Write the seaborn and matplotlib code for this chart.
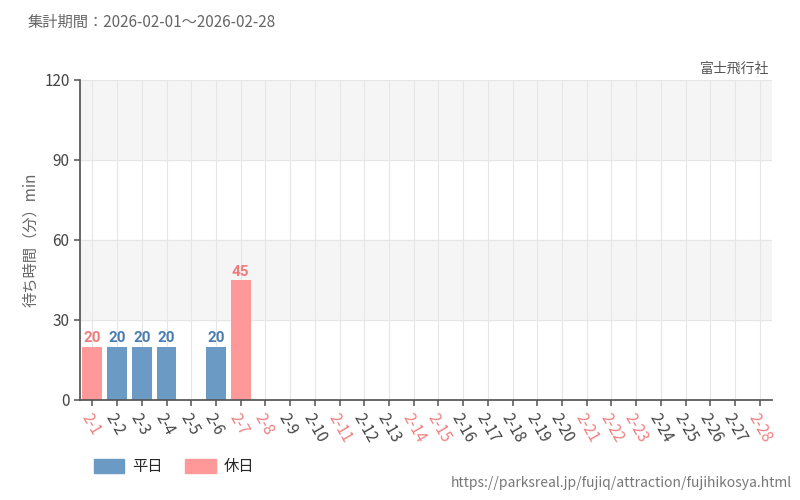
import matplotlib
matplotlib.use("Agg")
import matplotlib.pyplot as plt
import seaborn as sns
import pandas as pd
from matplotlib.patches import Patch

days = [f"2-{d}" for d in range(1, 29)]
holidays = ["2-1", "2-7", "2-8", "2-11", "2-14", "2-15", "2-21", "2-22", "2-23", "2-28"]
values = {"2-1": 20, "2-2": 20, "2-3": 20, "2-4": 20, "2-6": 20, "2-7": 45}

sns.set_theme(style="white")
plt.rcParams['font.family'] = ['Noto Sans CJK JP', 'DejaVu Sans']

rows = []
for d in days:
    if d in values:
        rows.append({"day": d, "wait": values[d], "type": "休日" if d in holidays else "平日"})
df = pd.DataFrame(rows)

C_WD, C_HD = "#6b9bc4", "#ff9999"
T_WD, T_HD = "#4a7eb0", "#f07c7c"

fig = plt.figure(figsize=(8, 5), dpi=100)
ax = fig.add_axes([0.10, 0.20, 0.865, 0.64])
ax.set_facecolor("white")
for lo, hi in [(30, 60), (90, 120)]:
    ax.axhspan(lo, hi, color="#f5f5f5", zorder=0)
for i in range(len(days)):
    ax.axvline(i, color="#e6e6e6", lw=0.8, zorder=0.5)
for y in [30, 60, 90, 120]:
    ax.axhline(y, color="#e6e6e6", lw=0.8, zorder=0.5)

sns.barplot(data=df, x="day", y="wait", hue="type", order=days,
            palette={"平日": C_WD, "休日": C_HD}, dodge=False, width=0.8,
            saturation=1, linewidth=0, ax=ax, legend=False, zorder=2)

for _, r in df.iterrows():
    i = days.index(r["day"])
    ax.text(i, r["wait"] + 0.5, str(r["wait"]), ha="center", va="bottom",
            fontsize=11, fontweight="bold", family=["Roboto", "DejaVu Sans"],
            fontstretch="condensed",
            color=T_HD if r["type"] == "休日" else T_WD, zorder=3)

ax.set_xlim(-0.5, len(days) - 0.5)
ax.set_ylim(0, 120)
ax.set_yticks([0, 30, 60, 90, 120])
ax.tick_params(axis="y", labelsize=11, colors="#444444", length=4, left=True, color="#666666")
ax.set_xticks(range(len(days)))
ax.set_xticklabels(days, rotation=-60, ha="left", rotation_mode="anchor", fontsize=11)
ax.tick_params(axis="x", length=4, bottom=True, color="#666666")
for lbl in ax.get_xticklabels():
    lbl.set_color("#f08080" if lbl.get_text() in holidays else "#444444")
ax.set_xlabel("")
ax.set_ylabel("待ち時間（分）min", fontsize=11, color="#666666")
for s in ["top", "right"]:
    ax.spines[s].set_visible(False)
for s in ["left", "bottom"]:
    ax.spines[s].set_color("#555555")

fig.text(0.035, 0.955, "集計期間：2026-02-01～2026-02-28", fontsize=11, color="#666666", va="center")
fig.text(0.962, 0.862, "富士飛行社", fontsize=10, color="#555555", ha="right", va="center")
fig.text(0.99, 0.035, "https://parksreal.jp/fujiq/attraction/fujihikosya.html", fontsize=10,
         color="#777777", ha="right", va="center")
fig.legend(handles=[Patch(color=C_WD, label="平日"), Patch(color=C_HD, label="休日")],
           loc="center left", bbox_to_anchor=(0.1, 0.067), ncol=2, frameon=False,
           fontsize=11, handlelength=2.0, handleheight=1.0, handletextpad=0.5,
           columnspacing=1.5)
fig.savefig("out.png", dpi=100)
